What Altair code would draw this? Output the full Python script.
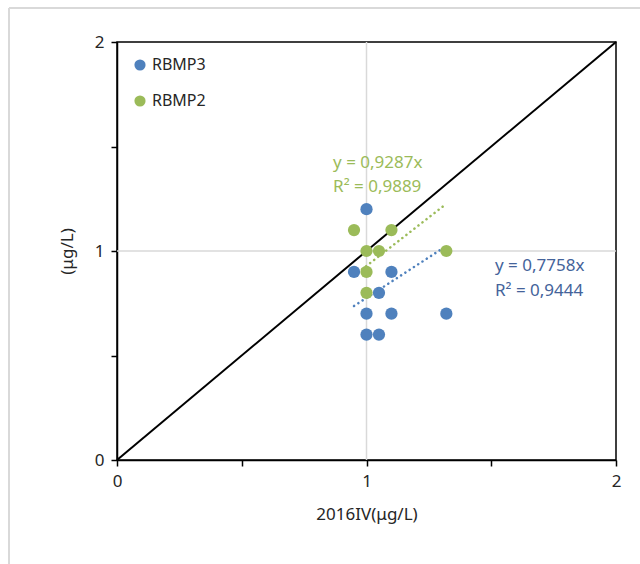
import altair as alt
import pandas as pd

# ---- data ----
series_names = ["RBMP3", "RBMP2"]
series_colors = ["#4F81BD", "#9BBB59"]
text_colors = ["#44639A", "#9BBB59"]

rbmp3_x = [1.0, 0.95, 1.1, 1.05, 1.0, 1.1, 1.32, 1.0, 1.05]
rbmp3_y = [1.2, 0.9, 0.9, 0.8, 0.7, 0.7, 0.7, 0.6, 0.6]

rbmp2_x = [0.95, 1.1, 1.0, 1.05, 1.32, 1.0, 1.0]
rbmp2_y = [1.1, 1.1, 1.0, 1.0, 1.0, 0.9, 0.8]

slopes = [0.7758, 0.9287]
eq_lines = [["y = 0,7758x", "R² = 0,9444"], ["y = 0,9287x", "R² = 0,9889"]]
eq_anchor_x = [1.515, 0.866]
eq_anchor_y = [0.928, 1.421]
eq_line_step = 0.117

axis_ticks = [0, 0.5, 1, 1.5, 2]
grid_values = [1]
diag = [0, 2]

# ---- tables ----
points = pd.DataFrame(
    {"x": rbmp3_x + rbmp2_x,
     "y": rbmp3_y + rbmp2_y,
     "series": ["RBMP3"] * len(rbmp3_x) + ["RBMP2"] * len(rbmp2_x)}
)

trend_rows = []
for name, xs, k in [("RBMP3", rbmp3_x, slopes[0]), ("RBMP2", rbmp2_x, slopes[1])]:
    for xv in (min(xs), max(xs)):
        trend_rows.append({"x": xv, "y": k * xv, "series": name})
trend = pd.DataFrame(trend_rows)

eq_rows = []
for i, name in enumerate(series_names):
    for j, line in enumerate(eq_lines[i]):
        eq_rows.append({"x": eq_anchor_x[i], "y": eq_anchor_y[i] - j * eq_line_step,
                        "text": line, "series": name})
eqs = pd.DataFrame(eq_rows)

diag_df = pd.DataFrame({"x": diag, "y": diag})
grid_df = pd.DataFrame({"v": grid_values})

FONT = "Noto Sans"
xscale = alt.Scale(domain=[0, 2], nice=False, zero=False)
yscale = alt.Scale(domain=[0, 2], nice=False, zero=False)
color_scale = alt.Scale(domain=series_names, range=series_colors)
text_scale = alt.Scale(domain=series_names, range=text_colors)

label_expr = "datum.value % 1 == 0 ? format(datum.value, 'd') : ''"

common = dict(values=axis_ticks, labelExpr=label_expr, grid=False, labelFlush=False,
              titleFontSize=17, titleFontWeight="normal", titleColor="#262626",
              titleFont=FONT, labelFont=FONT, labelFontSize=17, labelColor="#262626",
              labelPadding=7, domainColor="black", domainWidth=1.5, tickColor="black",
              tickWidth=1.5, tickSize=6)
xaxis = alt.Axis(title="2016IV(μg/L)", titlePadding=17, **common)
yaxis = alt.Axis(title="(μg/L)", titlePadding=18, **common)

base_x = alt.X("x:Q", scale=xscale, axis=xaxis)
base_y = alt.Y("y:Q", scale=yscale, axis=yaxis)

gridx = alt.Chart(grid_df).mark_rule(color="#d9d9d9", strokeWidth=1.5).encode(
    x=alt.X("v:Q", scale=xscale, axis=xaxis))
gridy = alt.Chart(grid_df).mark_rule(color="#d9d9d9", strokeWidth=1.5).encode(
    y=alt.Y("v:Q", scale=yscale, axis=yaxis))

diag_line = alt.Chart(diag_df).mark_line(color="black", strokeWidth=2).encode(
    x=base_x, y=base_y)

trend_lines = alt.Chart(trend).mark_line(strokeWidth=2.5, strokeDash=[0.1, 5],
                                         strokeCap="round").encode(
    x=base_x, y=base_y,
    color=alt.Color("series:N", scale=color_scale, legend=None),
    detail="series:N")

pts = alt.Chart(points).mark_point(filled=True, opacity=1, size=150, shape="circle").encode(
    x=base_x, y=base_y,
    color=alt.Color("series:N", scale=color_scale,
                    legend=alt.Legend(title=None, orient="none", legendX=15, legendY=15,
                                      symbolSize=125, symbolType="circle",
                                      labelFont=FONT, labelFontSize=16, labelColor="#262626",
                                      rowPadding=20, symbolOffset=0, labelOffset=4)),
    order=alt.Order("order:Q"),
).transform_calculate(order="datum.series == 'RBMP3' ? 0 : 1")

eq_text = alt.Chart(eqs).mark_text(align="left", baseline="middle", font=FONT,
                                   fontSize=17).encode(
    x=base_x, y=base_y, text="text:N",
    color=alt.Color("series:N", scale=text_scale, legend=None))

frame_left = alt.Chart(grid_df).mark_rule(color="#d9d9d9", strokeWidth=2).encode(
    x=alt.value(-108), y=alt.value(-34), y2=alt.value(600))
frame_top = alt.Chart(grid_df).mark_rule(color="#d9d9d9", strokeWidth=2).encode(
    y=alt.value(-34), x=alt.value(-108), x2=alt.value(600))

chart = alt.layer(
    frame_left, frame_top, gridx, gridy, diag_line, trend_lines, pts, eq_text
).resolve_scale(color="independent").properties(
    width=499, height=418,
    autosize=alt.AutoSizeParams(type="none"),
    padding={"left": 117, "top": 42, "right": 24, "bottom": 104},
    background="white",
).configure_view(stroke="black", strokeWidth=1.5)

chart.save("out.html", embed_options={"renderer": "svg", "actions": False})
